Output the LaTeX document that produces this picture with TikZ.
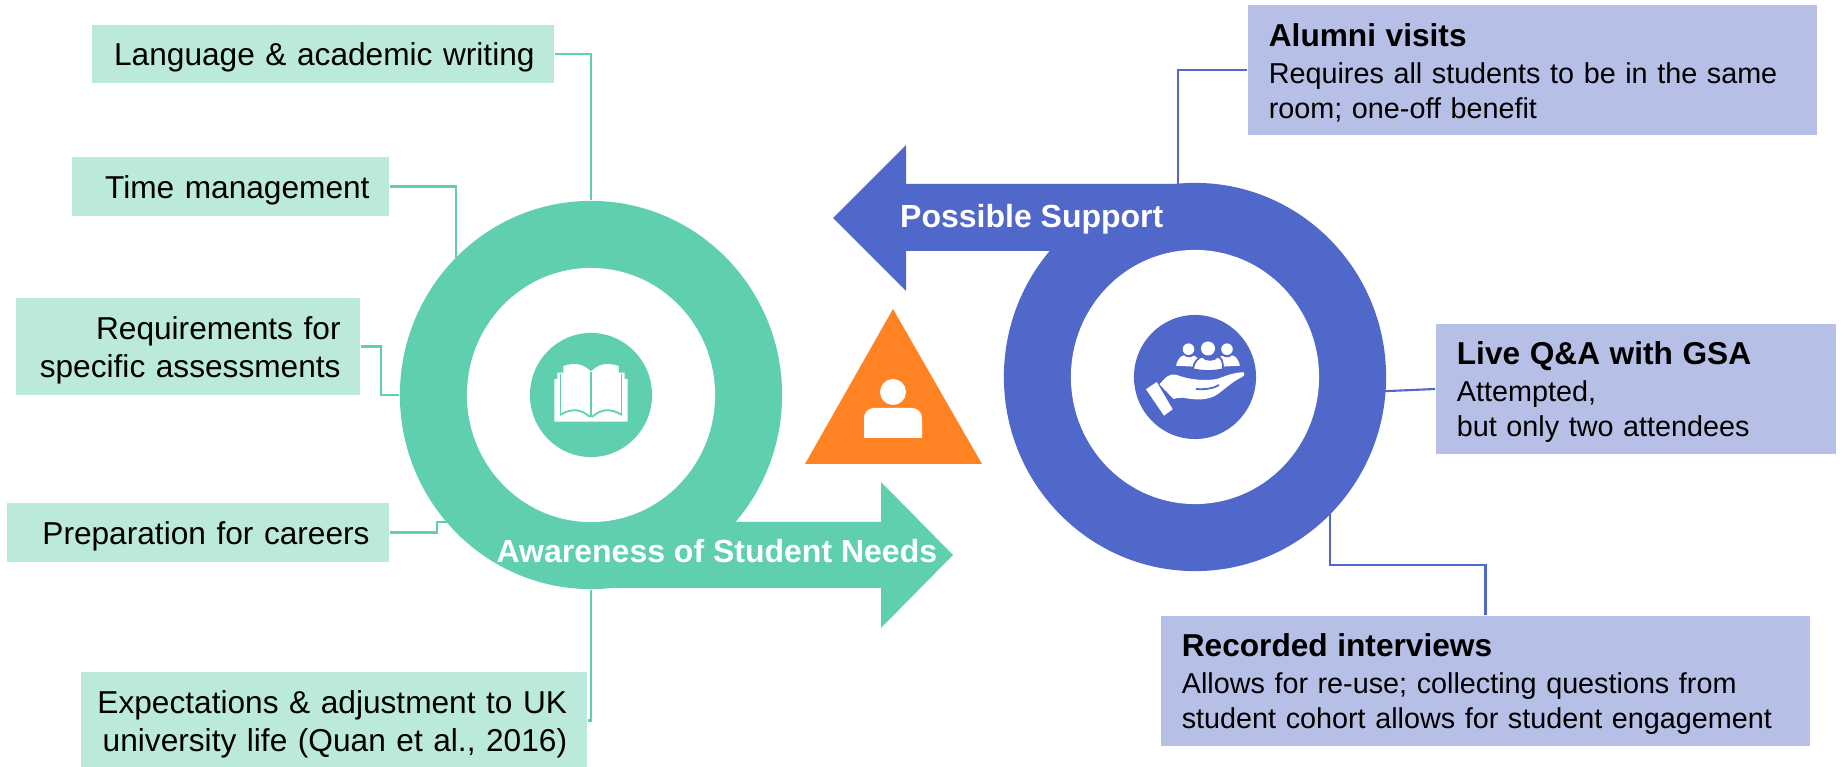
\documentclass[tikz,border=0pt]{standalone}
\usepackage{fontspec}
\setmainfont{Liberation Sans}
\usetikzlibrary{shapes.geometric}
\definecolor{needsgreen}{HTML}{5FCFB0}
\definecolor{needslight}{HTML}{BBE9DC}
\definecolor{supportblue}{HTML}{5068C9}
\definecolor{supportlight}{HTML}{B6BFE6}
\definecolor{selforange}{HTML}{FF8323}
\newcommand{\boxhead}[1]{{\fontsize{9}{10.4}\selectfont\bfseries #1}}

\begin{document}
\begin{tikzpicture}[x=0.01cm, y=-0.01cm,
	needbox/.style={rectangle, fill=needslight, inner xsep=.195cm, inner ysep=0pt, align=right, text width=#1, font=\fontsize{9}{10.8}\selectfont, execute at begin node={\rule{0pt}{8.6pt}}},
	supportbox/.style={rectangle, fill=supportlight, inner xsep=.21cm, inner ysep=0pt, align=left, text width=#1, minimum height=1.30cm, font=\fontsize{8.18}{10}\selectfont, execute at begin node={\rule{0pt}{8.3pt}}},
	ring/.style={ellipse, inner sep=0pt, minimum width=3.82cm, minimum height=3.88cm},
	hole/.style={ellipse, inner sep=0pt, minimum width=2.48cm, minimum height=2.54cm, fill=white},
	hub/.style={ellipse, inner sep=0pt, minimum width=1.22cm, minimum height=1.24cm},
	arrowlabel/.style={anchor=base west, inner sep=0pt, text=white, font=\fontsize{9.1}{10.8}\selectfont\bfseries},
	needline/.style={draw=needsgreen, line width=.6pt},
	supportline/.style={draw=supportblue, line width=.6pt}]
	\useasboundingbox (0,0) rectangle (1844,767);

	% left ring with its arrow
	\node[ring, fill=needsgreen] (needring) at (591,395) {};
	\fill[needsgreen] (591,522) -- (881,522) -- (881,482) -- (953,555) -- (881,628) -- (881,588) -- (591,588) -- cycle;
	\node[hole] (needhole) at (591,395) {};
	\node[hub, fill=needsgreen] (needhub) at (591,395) {};

	% right ring with its arrow
	\node[ring, fill=supportblue] (supportring) at (1195,377) {};
	\fill[supportblue] (1195,184) -- (906,184) -- (906,145) -- (833,218) -- (906,291) -- (906,251) -- (1195,251) -- cycle;
	\node[hole] (supporthole) at (1195,377) {};
	\node[hub, fill=supportblue] (supporthub) at (1195,377) {};

	\node[arrowlabel] (needlabel) at (496,563) {Awareness of Student Needs};
	\node[arrowlabel] (supportlabel) at (899.5,228) {Possible Support};

	% book
	\fill[white] (554.3,421.7) -- (554.3,379) -- (557.3,379) -- (557.3,372.7) -- (563.3,372.7) -- (563.3,366)
		.. controls (575,362) and (584,364) .. (591,371.7)
		.. controls (598,364) and (607,362) .. (618.7,366)
		-- (618.7,372.7) -- (624.7,372.7) -- (624.7,379) -- (627.7,379) -- (627.7,421.7) -- cycle;
	\foreach \s in {-1,1} {
		\draw[needsgreen, line width=.5pt] (591+\s*30.5,374) -- (591+\s*30.5,414);
		\draw[needsgreen, line width=.5pt] (591+\s*31,415) .. controls (591+\s*18,407) and (591+\s*9,410) .. (591+\s*1,417);
	}
	\draw[needsgreen, line width=.5pt] (591,371.7) -- (591,417);

	% people over a hand
	\foreach \x in {1188.5,1227} {
		\fill[white] (\x,349.2) circle[radius=5.8];
	}
	\fill[white] (1176,365.7) .. controls (1178,358) and (1181,356) .. (1184,355.3) .. controls (1186,358) and (1191,358) .. (1194,355.7) -- (1204,362) -- (1200,367) -- cycle;
	\fill[white] (1240,365.7) .. controls (1238,358) and (1235,356) .. (1232,355.3) .. controls (1230,358) and (1225,358) .. (1222,355.7) -- (1212,362) -- (1216,367) -- cycle;
	\draw[supportblue, line width=.5pt, fill=white] (1193,369.3) .. controls (1194,361) and (1198,358) .. (1202.5,356.5) .. controls (1205,361) and (1215,361) .. (1217.5,356.5) .. controls (1222,358) and (1223,361) .. (1223,369.3) .. controls (1213,371.5) and (1203,371.5) .. (1193,369.3) -- cycle;
	\fill[white] (1208,348.5) circle[radius=7];
	\fill[white] (1146,389.3) -- (1156.7,382) -- (1172.7,409.3) -- (1164,415.7) -- cycle;
	\fill[white] (1159.5,384.3) .. controls (1166,377) and (1169,373) .. (1177,375) .. controls (1190,380) and (1205,381) .. (1217,379)
		.. controls (1228,375) and (1236,372) .. (1244,372.3) .. controls (1245,375) and (1244,376.5) .. (1242,377)
		.. controls (1232,382) and (1226,388) .. (1218,394) .. controls (1208,401) and (1195,400) .. (1183,397.7)
		.. controls (1178,398) and (1175,398) .. (1173.5,399) -- cycle;
	\draw[supportblue, line width=.5pt] (1196,389) .. controls (1205,389.5) and (1212,389) .. (1219,385);

	% person in the triangle
	\fill[selforange] (893,309) -- (982,464) -- (805,464) -- cycle;
	\fill[white] (893,392) circle[radius=13];
	\fill[white] (864,438) -- (864,418) arc[start angle=180, end angle=270, radius=10] -- (912,408) arc[start angle=270, end angle=360, radius=10] -- (922,438) -- cycle;

	% boxes on the left
	\node[needbox=4.23cm, minimum height=.58cm] (writing) at (323,54) {Language \& academic writing};
	\node[needbox=2.78cm, minimum height=.59cm] (timing) at (230.5,186.5) {Time management};
	\node[needbox=3.05cm, minimum height=.97cm] (assess) at (188,346.5) {Requirements for\\specific assessments};
	\node[needbox=3.43cm, minimum height=.59cm] (careers) at (198,532.5) {Preparation for careers};
	\node[needbox=4.77cm, inner xsep=.145cm, minimum height=.97cm] (adjust) at (334,720.5) {Expectations \& adjustment to UK\rule{.055cm}{0pt}\\university life (Quan et al., 2016)\rule{.055cm}{0pt}};

	% boxes on the right
	\node[supportbox=5.27cm] (alumni) at (1532.5,70) {\boxhead{Alumni visits}\\[.5pt]Requires all students to be in the same\\room; one-off benefit};
	\node[supportbox=3.58cm] (live) at (1636,389) {\boxhead{Live Q\&A with GSA}\\[.5pt]Attempted,\\but only two attendees};
	\node[supportbox=6.07cm] (recorded) at (1485.5,681) {\boxhead{Recorded interviews}\\[.5pt]Allows for re-use; collecting questions from\\student cohort allows for student engagement};

	% free ends
	\coordinate (timingend) at (456,258);
	\coordinate (careersend) at (482,522);
	\coordinate (alumniend) at (1178,184);
	\coordinate (liveend) at (1343,393);
	\coordinate (recordedend) at (1330,513);

	% connectors
	\draw[needline] (writing.east) -| (needring.north);
	\draw[needline] (timing.east) -| (timingend);
	\draw[needline] (assess.east) -- ++(20,0) |- (needring.west);
	\draw[needline] (careers.east) -- ++(47,0) |- (careersend);
	\draw[needline] (adjust.east) -| (needring.south);
	\draw[supportline] (alumni.west) -| (alumniend);
	\draw[supportline] (live.west) -- (liveend);
	\draw[supportline] (recorded.north) -- ++(0,-50) -| (recordedend);
\end{tikzpicture}
\end{document}
